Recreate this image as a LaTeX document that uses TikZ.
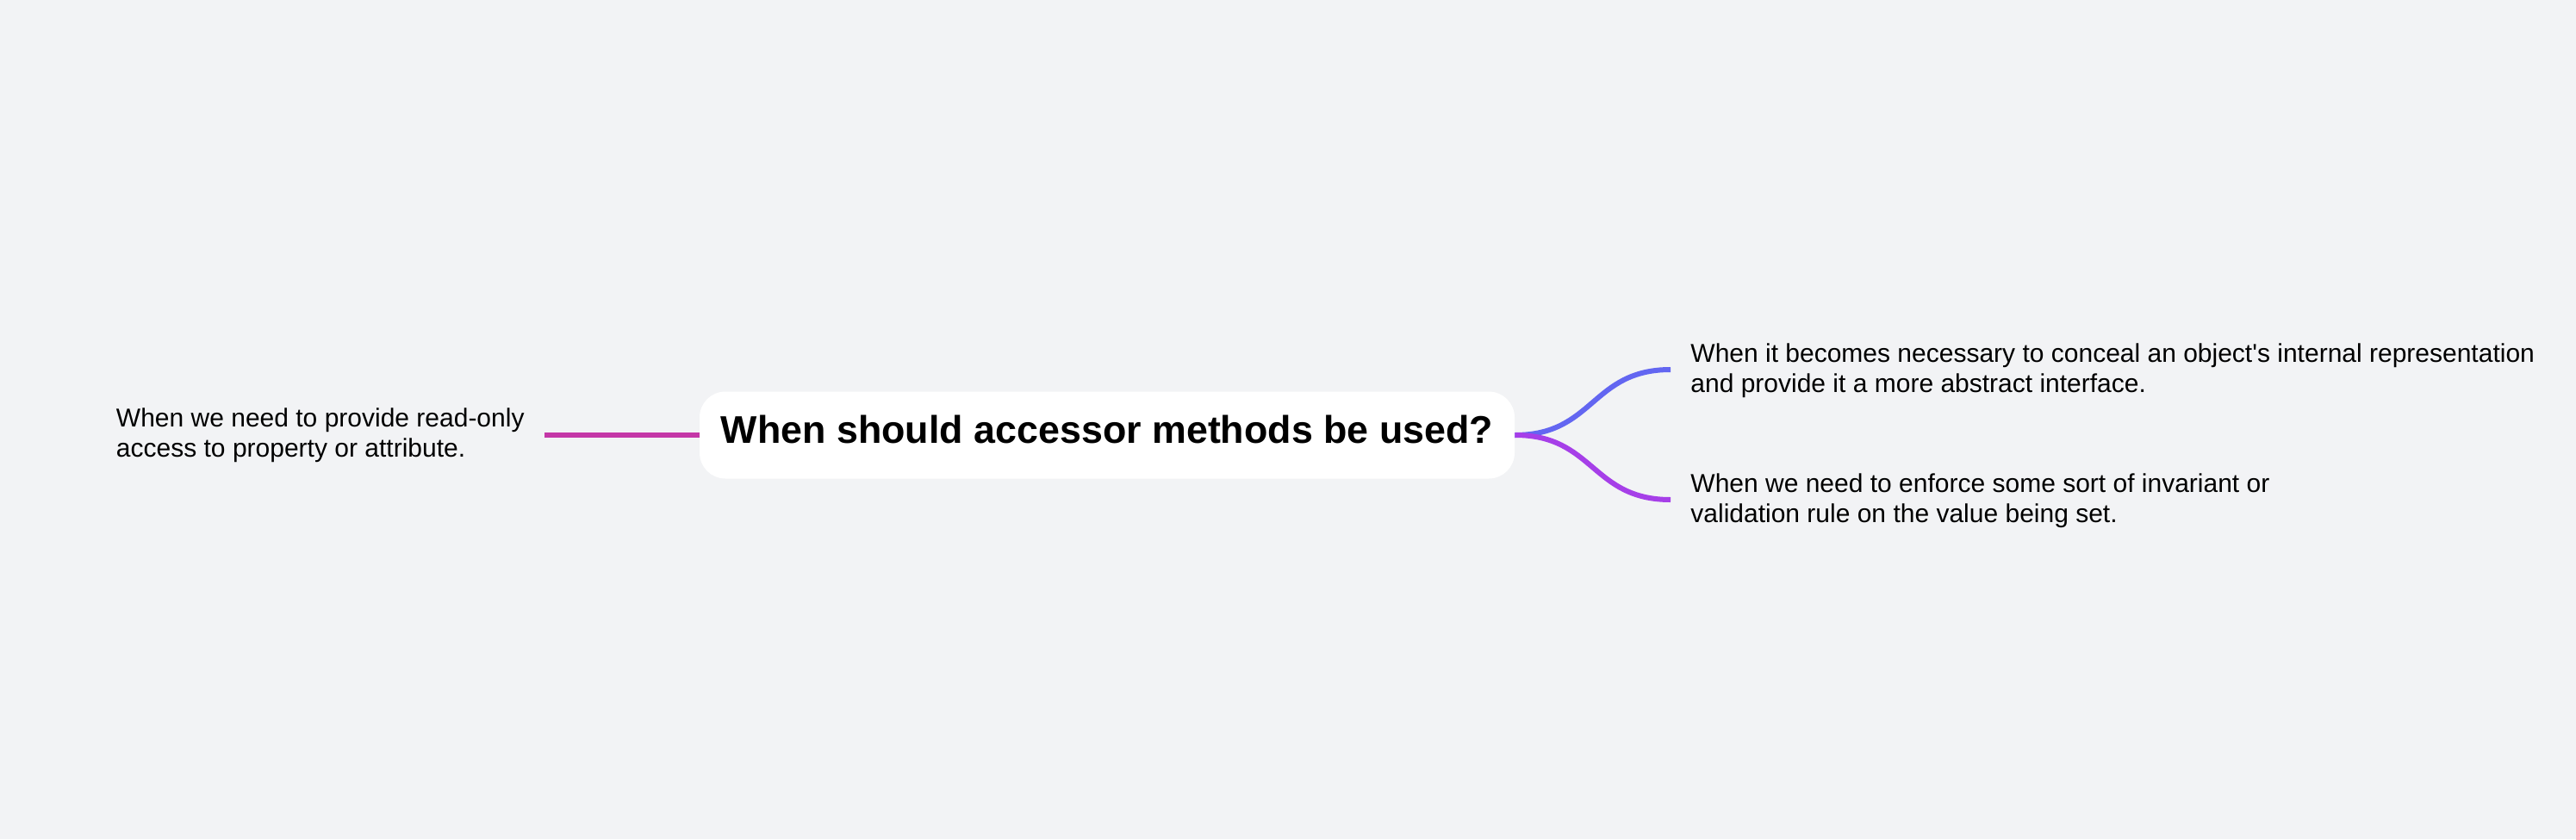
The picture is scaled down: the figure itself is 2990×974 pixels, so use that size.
\documentclass[tikz,border=0pt]{standalone}
\usepackage{fontspec}
\setmainfont{Liberation Sans}
\usepackage{xcolor}
\definecolor{bgpaper}{HTML}{F2F3F5}
\definecolor{pinkline}{HTML}{C437A7}
\definecolor{blueline}{HTML}{6366F1}
\definecolor{violetline}{HTML}{A63FE8}

\begin{document}
\begin{tikzpicture}[x=0.5pt,y=0.5pt,yscale=-1,xscale=1,
  leaf/.style={align=left, inner xsep=11.5pt, inner ysep=0pt, font=\fontsize{15}{17.5}\selectfont},
  branch/.style={line width=3pt}]
%set diagram size 2990 x 974
\fill [bgpaper] (0,0) rectangle (2990,974);

%Shape: Rounded Rectangle
\node [fill=white, rounded corners=15pt, minimum width=473pt, minimum height=50.5pt, inner sep=0pt, text depth=6.4pt, font=\bfseries\fontsize{22.4}{26}\selectfont] (root) at (1285,505) {When should accessor methods be used?};

% Text Node
\node [leaf, anchor=east] (readonly) at (632,505) {When we need to provide read-only\\access to property or attribute.};
% Text Node
\node [leaf, anchor=west, text depth=2pt] (conceal) at (1939,429) {When it becomes necessary to conceal an object\textquotesingle s internal representation\\and provide it a more abstract interface.};
% Text Node
\node [leaf, anchor=west, text depth=2pt] (enforce) at (1939,580) {When we need to enforce some sort of invariant or\\validation rule on the value being set.};

%Straight Lines
\draw [branch, pinkline] (readonly.east) -- (root.west);
%Curve Lines
\draw [branch, blueline] (root.east) .. controls +(92,0) and +(-92,0) .. (conceal.west);
\draw [branch, violetline] (root.east) .. controls +(92,0) and +(-92,0) .. (enforce.west);

\end{tikzpicture}
\end{document}
